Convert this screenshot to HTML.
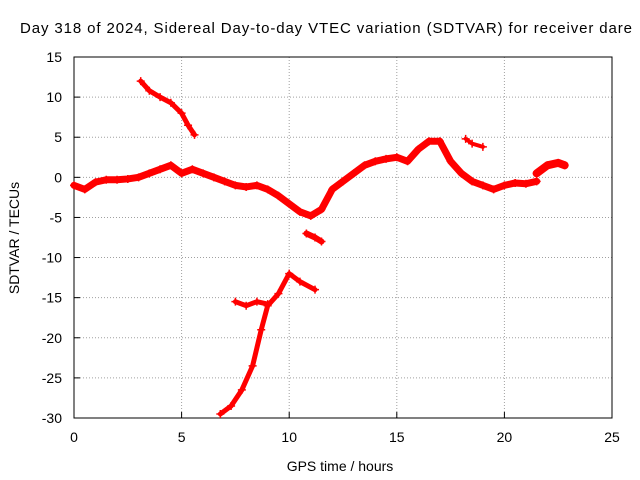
<!DOCTYPE html>
<html><head><meta charset="utf-8"><style>
html,body{margin:0;padding:0;background:#fff;}
svg{display:block;font-family:"Liberation Sans",Arial,sans-serif;}
</style></head><body>
<svg id="chart" width="640" height="480" viewBox="0 0 640 480">
<rect width="640" height="480" fill="#fff"/>
<text x="20" y="33" font-size="15" textLength="612" lengthAdjust="spacing" fill="#000">Day 318 of 2024, Sidereal Day-to-day VTEC variation (SDTVAR) for receiver dare</text>
<g id="grid"></g>
<g id="axes"></g>
<g id="series"></g>
<text x="340" y="471" font-size="14" text-anchor="middle">GPS time / hours</text>
<text transform="translate(19,238) rotate(-90)" font-size="14" text-anchor="middle">SDTVAR / TECUs</text>
</svg>
<script>
const xTicks=[0,5,10,15,20,25];
const yTicks=[15,10,5,0,-5,-10,-15,-20,-25,-30];
const mainT=[0,0.5,1,1.5,2,2.5,3,3.5,4,4.5,5,5.5,6,6.5,7,7.5,8,8.5,9,9.5,10,10.5,11,11.5,12,12.5,13,13.5,14,14.5,15,15.5,16,16.5,17,17.5,18,18.5,19,19.5,20,20.5,21,21.5];
const mainV=[-1,-1.5,-0.6,-0.3,-0.3,-0.2,0,0.5,1,1.5,0.5,1,0.5,0,-0.5,-1,-1.2,-1,-1.5,-2.3,-3.3,-4.3,-4.8,-4,-1.5,-0.5,0.5,1.5,2,2.3,2.5,2,3.5,4.5,4.5,2,0.5,-0.5,-1,-1.5,-1,-0.7,-0.8,-0.5];
const tailT=[21.5,22,22.5,22.8];
const tailV=[0.5,1.5,1.8,1.5];
const upperT=[3.1,3.5,4,4.5,5,5.3,5.6];
const upperV=[12,10.8,10,9.3,8,6.5,5.3];
const lowerT=[6.8,7.3,7.8,8.3,8.7,9,9.5,10,10.5,11.2];
const lowerV=[-29.5,-28.5,-26.5,-23.5,-19,-16,-14.5,-12,-13,-14];
const shelfT=[7.5,8,8.5,9];
const shelfV=[-15.5,-16,-15.5,-15.8];
const smallT=[18.2,18.5,19];
const smallV=[4.8,4.2,3.8];
const dipT=[10.8,11.2,11.5];
const dipV=[-7,-7.5,-8];
const X0=74,X1=612,Y0=418,Y1=57;
const sx=t=>X0+(t-0)/(25-0)*(X1-X0);
const sy=v=>Y0-(v+30)/(45)*(Y0-Y1);
const NS="http://www.w3.org/2000/svg";
function mk(tag,attrs,parent){const e=document.createElementNS(NS,tag);for(const k in attrs)e.setAttribute(k,attrs[k]);parent.appendChild(e);return e;}
const grid=document.getElementById('grid'),axes=document.getElementById('axes'),ser=document.getElementById('series');
xTicks.forEach(t=>{
  if(t>0&&t<25){const l=mk('line',{x1:sx(t),x2:sx(t),y1:Y0,y2:Y1,stroke:'#a0a0a0','stroke-dasharray':'1,2','stroke-width':1},grid);
  
  }
  const tk=mk('line',{x1:sx(t),x2:sx(t),y1:Y0,y2:Y0-6,stroke:'#000'},axes);
  
  
  const tx=mk('text',{x:sx(t),y:Y0+24,'font-size':14,'text-anchor':'middle'},axes);tx.textContent=t;
  
  
});
yTicks.forEach(v=>{
  if(v>-30&&v<15){const l=mk('line',{x1:X0,x2:X1,y1:sy(v),y2:sy(v),stroke:'#a0a0a0','stroke-dasharray':'1,2','stroke-width':1},grid);
  
  }
  const tk=mk('line',{x1:X0,x2:X0+6,y1:sy(v),y2:sy(v),stroke:'#000'},axes);
  
  
  const tx=mk('text',{x:X0-12,y:sy(v)+5,'font-size':14,'text-anchor':'end'},axes);tx.textContent=v;
  
  
});
const fr=mk('rect',{x:X0,y:Y1,width:X1-X0,height:Y0-Y1,fill:'none',stroke:'#000'},axes);


const segs=[[mainT,mainV,7],[tailT,tailV,8],[upperT,upperV,5],[lowerT,lowerV,5],[shelfT,shelfV,5],[smallT,smallV,4],[dipT,dipV,6]];
segs.forEach(([T,V,w])=>{
  const p=mk('polyline',{points:T.map((t,i)=>sx(t)+','+sy(V[i])).join(' '),fill:'none',stroke:'#ff0000','stroke-width':w,'stroke-linejoin':'round','stroke-linecap':'round'},ser);
  
  
  T.forEach((t,i)=>{
    const m=mk('path',{d:`M${sx(t)-4},${sy(V[i])}h8M${sx(t)},${sy(V[i])-4}v8`,stroke:'#ff0000','stroke-width':1.5},ser);
    
    
  });
});
</script>
</body></html>
